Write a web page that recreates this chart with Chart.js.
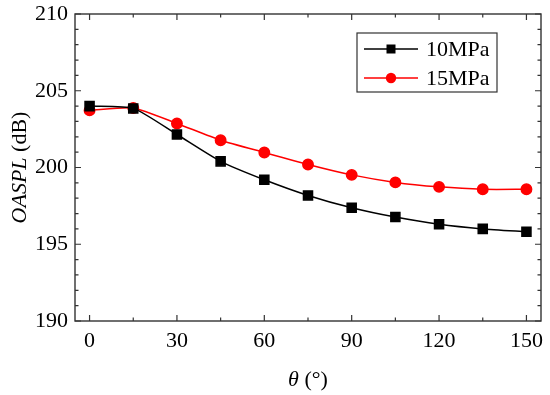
<!DOCTYPE html>
<html>
<head>
<meta charset="utf-8">
<script src="https://cdn.jsdelivr.net/npm/chart.js@4/dist/chart.umd.min.js"></script>
<style>
    html, body { margin: 0; padding: 0; background: #fff; }
    #wrap { width: 550px; height: 395px; position: relative; }
</style>
</head>
<body>
<div id="wrap"><canvas id="chart"></canvas></div>
<script>
// data
const angles = [0, 15, 30, 45, 60, 75, 90, 105, 120, 135, 150];
const p10MPa = [204.0, 203.85, 202.15, 200.4, 199.2, 198.18, 197.38, 196.77, 196.3, 196.0, 195.82];
const p15MPa = [203.72, 203.88, 202.87, 201.78, 200.98, 200.2, 199.52, 199.03, 198.74, 198.58, 198.58];
const seriesNames = ['10MPa', '15MPa'];
const xTicks = [0, 30, 60, 90, 120, 150];
const yTicks = [190, 195, 200, 205, 210];

const serif = "'Liberation Serif', 'Times New Roman', serif";

// inside ticks on all four sides, frame, axis titles and boxed legend
const decorPlugin = {
    id: 'decor',
    afterDraw(chart) {
        const ctx = chart.ctx;
        const a = chart.chartArea;
        const xs = chart.scales.x;
        const ys = chart.scales.y;
        ctx.save();
        ctx.strokeStyle = '#333';
        ctx.lineWidth = 1.4;
        ctx.strokeRect(a.left, a.top, a.right - a.left, a.bottom - a.top);

        ctx.lineWidth = 1.2;
        ctx.beginPath();
        for (let v = 0; v <= 150; v += 15) {
            const px = xs.getPixelForValue(v);
            const len = v % 30 === 0 ? 6 : 3.5;
            ctx.moveTo(px, a.bottom); ctx.lineTo(px, a.bottom - len);
            ctx.moveTo(px, a.top); ctx.lineTo(px, a.top + len);
        }
        for (let v = 190; v <= 210; v += 1) {
            const py = ys.getPixelForValue(v);
            const len = v % 5 === 0 ? 6 : 3.5;
            ctx.moveTo(a.left, py); ctx.lineTo(a.left + len, py);
            ctx.moveTo(a.right, py); ctx.lineTo(a.right - len, py);
        }
        ctx.stroke();

        // axis titles
        ctx.fillStyle = '#000';
        ctx.textBaseline = 'alphabetic';
        const xt1 = 'θ', xt2 = ' (°)';
        ctx.font = 'italic 22px ' + serif;
        const w1 = ctx.measureText(xt1).width;
        ctx.font = '22px ' + serif;
        const w2 = ctx.measureText(xt2).width;
        let x0 = (a.left + a.right) / 2 - (w1 + w2) / 2;
        ctx.font = 'italic 22px ' + serif;
        ctx.fillText(xt1, x0, 386);
        ctx.font = '22px ' + serif;
        ctx.fillText(xt2, x0 + w1, 386);

        ctx.translate(26, (a.top + a.bottom) / 2);
        ctx.rotate(-Math.PI / 2);
        const yt1 = 'OASPL', yt2 = ' (dB)';
        ctx.font = 'italic 22px ' + serif;
        const v1 = ctx.measureText(yt1).width;
        ctx.font = '22px ' + serif;
        const v2 = ctx.measureText(yt2).width;
        let y0 = -(v1 + v2) / 2;
        ctx.font = 'italic 22px ' + serif;
        ctx.fillText(yt1, y0, 0);
        ctx.font = '22px ' + serif;
        ctx.fillText(yt2, y0 + v1, 0);
        ctx.restore();

        // legend
        ctx.save();
        ctx.strokeStyle = '#333';
        ctx.lineWidth = 1.2;
        ctx.strokeRect(357, 33, 140, 59);
        const rows = [49, 78];
        chart.data.datasets.forEach((ds, i) => {
            const y = rows[i];
            ctx.strokeStyle = ds.borderColor;
            ctx.lineWidth = ds.borderWidth;
            ctx.beginPath();
            ctx.moveTo(364, y); ctx.lineTo(418, y);
            ctx.stroke();
            ctx.fillStyle = ds.backgroundColor;
            if (ds.pointStyle === 'rect') {
                ctx.fillRect(391 - 4.5, y - 4.5, 9, 9);
            } else {
                ctx.beginPath();
                ctx.arc(391, y, 5.2, 0, Math.PI * 2);
                ctx.fill();
            }
            ctx.fillStyle = '#000';
            ctx.font = '22px ' + serif;
            ctx.textBaseline = 'middle';
            ctx.fillText(ds.label, 426, y + 1);
        });
        ctx.restore();
    }
};

new Chart(document.getElementById('chart'), {
    type: 'line',
    data: {
        datasets: [
            {
                label: seriesNames[0],
                data: angles.map((a, i) => ({ x: a, y: p10MPa[i] })),
                borderColor: '#000',
                backgroundColor: '#000',
                borderWidth: 1.5,
                pointStyle: 'rect',
                pointRadius: 6.4,
                tension: 0.2
            },
            {
                label: seriesNames[1],
                data: angles.map((a, i) => ({ x: a, y: p15MPa[i] })),
                borderColor: '#ff0000',
                backgroundColor: '#ff0000',
                borderWidth: 1.5,
                pointStyle: 'circle',
                pointRadius: 5.2,
                tension: 0.2
            }
        ]
    },
    options: {
        responsive: true,
        maintainAspectRatio: false,
        animation: false,
        layout: { padding: { top: 14, right: 9, left: 0, bottom: 0 } },
        plugins: {
            legend: { display: false },
            tooltip: { enabled: false }
        },
        scales: {
            x: {
                type: 'linear',
                min: -5,
                max: 155,
                afterBuildTicks: s => { s.ticks = xTicks.map(v => ({ value: v })); },
                afterFit: s => { s.height = 74; s.paddingLeft = 0; s.paddingRight = 0; },
                grid: { display: false, drawTicks: false },
                border: { display: false },
                ticks: { color: '#000', padding: 7, font: { family: serif, size: 22 } }
            },
            y: {
                type: 'linear',
                min: 190,
                max: 210,
                afterBuildTicks: s => { s.ticks = yTicks.map(v => ({ value: v })); },
                afterFit: s => { s.width = 75; s.paddingTop = 0; s.paddingBottom = 0; },
                grid: { display: false, drawTicks: false },
                border: { display: false },
                ticks: { color: '#000', padding: 7, font: { family: serif, size: 22 } }
            }
        }
    },
    plugins: [decorPlugin]
});
</script>
</body>
</html>
